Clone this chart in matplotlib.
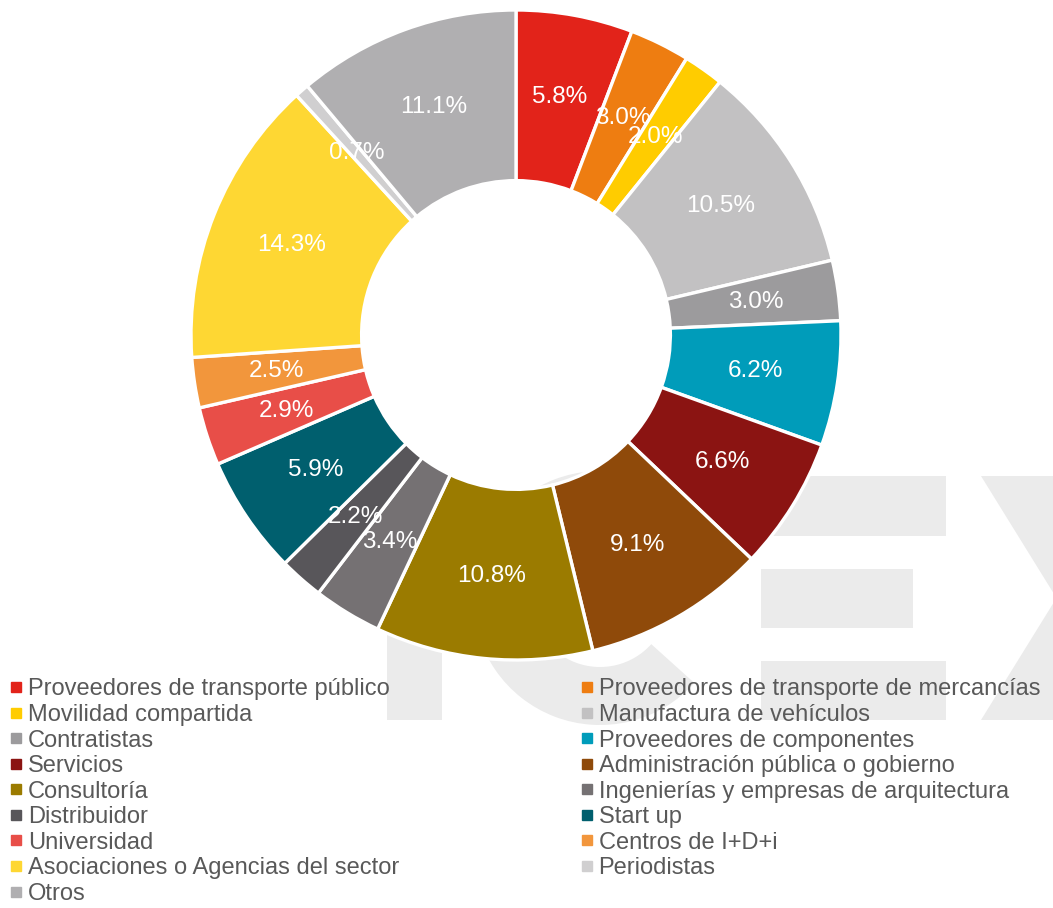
import matplotlib.pyplot as plt
from matplotlib.lines import Line2D
from matplotlib.patches import Rectangle, Polygon, Wedge

plt.rcParams['font.family'] = ['Liberation Sans', 'DejaVu Sans']

# Datos del gráfico (porcentaje de respuestas por tipo de entidad)
categorias = [
    "Proveedores de transporte público",
    "Proveedores de transporte de mercancías",
    "Movilidad compartida",
    "Manufactura de vehículos",
    "Contratistas",
    "Proveedores de componentes",
    "Servicios",
    "Administración pública o gobierno",
    "Consultoría",
    "Ingenierías y empresas de arquitectura",
    "Distribuidor",
    "Start up",
    "Universidad",
    "Centros de I+D+i",
    "Asociaciones o Agencias del sector",
    "Periodistas",
    "Otros",
]
valores = [5.8, 3.0, 2.0, 10.5, 3.0, 6.2, 6.6, 9.1, 10.8, 3.4, 2.2, 5.9, 2.9, 2.5, 14.3, 0.7, 11.1]
colores = [
    "#e2231a", "#ee7d11", "#ffcc00", "#c2c1c2", "#9c9b9d", "#009cba",
    "#8b1412", "#8f4a0a", "#9b7b00", "#757173", "#58565a", "#005f6e",
    "#e84e48", "#f2963c", "#fed733", "#d0cfd0", "#b0afb1",
]

W, H = 1053, 908
fig = plt.figure(figsize=(W / 100, H / 100), dpi=100)

# marca de agua "ICEX" de fondo (en píxeles de la figura)
bg = fig.add_axes([0, 0, 1, 1], zorder=0)
bg.set_xlim(0, W)
bg.set_ylim(H, 0)
bg.axis('off')
gris = '#ebebeb'
bg.add_patch(Rectangle((387, 476), 55, 244, color=gris, lw=0))          # I
bg.add_patch(Wedge((600, 598), 127, 42, 318, width=58, color=gris, lw=0))  # C
bg.add_patch(Rectangle((761, 476), 185, 60, color=gris, lw=0))          # E
bg.add_patch(Rectangle((761, 569), 152, 59, color=gris, lw=0))
bg.add_patch(Rectangle((761, 661), 185, 59, color=gris, lw=0))
bg.add_patch(Polygon([(981, 476), (1056, 476), (1207, 720), (1132, 720)], color=gris, lw=0))  # X
bg.add_patch(Polygon([(1132, 476), (1207, 476), (1056, 720), (981, 720)], color=gris, lw=0))

# donut: centro (516, 335) px, radio 325 px
cx, cy, r = 516, 335, 325
ax = fig.add_axes([(cx - r) / W, 1 - (cy + r) / H, 2 * r / W, 2 * r / H])
ax.set_zorder(1)
ax.patch.set_visible(False)

wedges, texts, autotexts = ax.pie(
    valores, colors=colores, startangle=90, counterclock=False, radius=1,
    autopct=lambda p: f"{p:.1f}%", pctdistance=0.745,
    wedgeprops=dict(width=0.525, edgecolor='white', linewidth=2.4),
    textprops=dict(color='white', fontsize=17.5),
)
ax.set_xlim(-1, 1)
ax.set_ylim(-1, 1)
ax.set_aspect('equal')
ax.axis('off')

# leyenda en dos columnas (orden por filas)
def handle(c):
    return Line2D([], [], marker='s', linestyle='none', markersize=6.5,
                  markerfacecolor=c, markeredgecolor=c)

izq = list(range(0, len(categorias), 2))
der = list(range(1, len(categorias), 2))
for idx, x0 in ((izq, 0.0), (der, 571 / W)):
    leg = fig.legend([handle(colores[i]) for i in idx], [categorias[i] for i in idx],
                     loc='upper left', bbox_to_anchor=(x0, 1 - 669 / H),
                     frameon=False, fontsize=17, labelcolor='#595959',
                     handlelength=0.55, handletextpad=0.22, labelspacing=0.15,
                     borderpad=0, borderaxespad=0.4)
    leg.set_zorder(2)

fig.savefig("out.png", dpi=100)
